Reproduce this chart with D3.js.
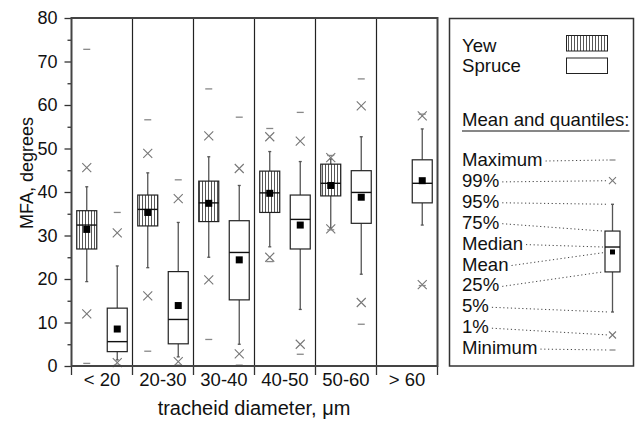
<!DOCTYPE html>
<html>
<head>
<meta charset="utf-8">
<script src="https://cdn.jsdelivr.net/npm/d3@7/dist/d3.min.js"></script>
<style>
  body { margin: 0; background: #fff; }
  svg { display: block; font-family: "Liberation Sans", Arial, sans-serif; }
  .axis text { font-size: 18px; fill: #111; }
  .axis path { display: none; }
  .axis line { stroke: #333; stroke-width: 1.3; }
  .title { font-size: 18px; fill: #111; }
  .legend text { font-size: 18.6px; fill: #111; }
  .leader { stroke: #444; stroke-width: 1; stroke-dasharray: 1.2 2.6; fill: none; }
  .whisker { stroke: #555; stroke-width: 1.3; }
  .box { stroke: #222; stroke-width: 1.2; }
  .median { stroke: #111; stroke-width: 1.4; }
  .mean { fill: #000; }
  .cross { stroke: #777; stroke-width: 1.1; }
  .dash { stroke: #888; stroke-width: 1.3; }
</style>
</head>
<body>
<div id="box-chart"></div>
<script>
// Data, one row per statistic in statKeys order
var statKeys = ["min", "p1", "p5", "q1", "median", "mean", "q3", "p95", "p99", "max"];
var categories = ["< 20", "20-30", "30-40", "40-50", "50-60", "> 60"];
var series = ["Yew", "Spruce"];

var yewStats = [
  [0.6, 12.0, 19.4, 26.9, 32.4, 31.4, 35.7, 41.2, 45.6, 72.8],
  [3.4, 16.1, 22.6, 32.2, 36.0, 35.3, 39.3, 44.4, 48.9, 56.6],
  [6.1, 19.8, 25.0, 33.2, 37.5, 37.4, 42.5, 48.1, 52.9, 63.7],
  [24.0, 25.0, 27.4, 35.3, 39.8, 39.7, 44.8, 49.3, 52.7, 54.6],
  [31.3, 31.5, 31.7, 39.1, 42.0, 41.5, 46.4, 47.6, 47.9, 48.4],
  null
];

var spruceStats = [
  [0.2, 0.8, 1.4, 3.3, 5.6, 8.5, 13.3, 23.0, 30.6, 35.3],
  [0.2, 1.0, 2.1, 5.1, 10.7, 13.9, 21.7, 33.0, 38.5, 42.8],
  [0.2, 2.8, 5.0, 15.2, 26.1, 24.4, 33.4, 41.5, 45.4, 57.2],
  [2.7, 5.0, 13.0, 26.9, 33.7, 32.4, 39.3, 47.0, 51.7, 58.3],
  [9.6, 14.6, 21.1, 32.8, 39.9, 38.8, 44.9, 52.7, 59.8, 66.0],
  [18.5, 18.7, 32.4, 37.5, 42.0, 42.6, 47.4, 54.5, 57.5, 57.9]
];

var yTicks = [0, 10, 20, 30, 40, 50, 60, 70, 80];
var yMinorTicks = [5, 15, 25, 35, 45, 55, 65, 75];

// Legend: labels top to bottom, the statistic each one points at,
// and a sample box on a 0-100 scale (statKeys order)
var legendLabels = ["Maximum", "99%", "95%", "75%", "Median", "Mean", "25%", "5%", "1%", "Minimum"];
var legendKeys = ["max", "p99", "p95", "q3", "median", "mean", "q1", "p5", "p1", "min"];
var legendSample = [0, 7.9, 20, 41.1, 54.2, 51.6, 62.6, 76.7, 89.1, 100];

var toStats = function(arr) {
  var o = {};
  statKeys.forEach(function(k, i) { o[k] = arr[i]; });
  return o;
};

// Flatten into one row per box
var rows = [];
categories.forEach(function(c, i) {
  [yewStats, spruceStats].forEach(function(s, j) {
    if (s[i]) {
      rows.push(Object.assign({ category: c, series: series[j] }, toStats(s[i])));
    }
  });
});

var drawBox = function(g, d, cx, y, opts) {
  var half = opts.boxWidth / 2;

  // whiskers with little caps
  g.append("line").attr("class", "whisker")
    .attr("x1", cx).attr("x2", cx).attr("y1", y(d.q3)).attr("y2", y(d.p95));
  g.append("line").attr("class", "whisker")
    .attr("x1", cx).attr("x2", cx).attr("y1", y(d.q1)).attr("y2", y(d.p5));
  [d.p95, d.p5].forEach(function(v) {
    g.append("line").attr("class", "whisker")
      .attr("x1", cx - opts.cap).attr("x2", cx + opts.cap)
      .attr("y1", y(v)).attr("y2", y(v));
  });

  g.append("rect").attr("class", "box")
    .attr("x", cx - half)
    .attr("y", y(d.q3))
    .attr("width", opts.boxWidth)
    .attr("height", y(d.q1) - y(d.q3))
    .attr("fill", opts.fill);

  g.append("line").attr("class", "median")
    .attr("x1", cx - half).attr("x2", cx + half)
    .attr("y1", y(d.median)).attr("y2", y(d.median));

  g.append("rect").attr("class", "mean")
    .attr("x", cx - opts.meanSize / 2)
    .attr("y", y(d.mean) - opts.meanSize / 2)
    .attr("width", opts.meanSize)
    .attr("height", opts.meanSize);

  // 1% and 99% crosses
  [d.p1, d.p99].forEach(function(v) {
    var s = opts.cross;
    g.append("path").attr("class", "cross")
      .attr("d", "M" + (cx - s) + "," + (y(v) - s) + "L" + (cx + s) + "," + (y(v) + s) +
        "M" + (cx - s) + "," + (y(v) + s) + "L" + (cx + s) + "," + (y(v) - s));
  });

  // min / max dashes
  [d.min, d.max].forEach(function(v) {
    g.append("line").attr("class", "dash")
      .attr("x1", cx - opts.dash).attr("x2", cx + opts.dash)
      .attr("y1", y(v)).attr("y2", y(v));
  });
};

var render = function() {
  var width = 636;
  var height = 421;
  var plot = { left: 71.5, right: 437.5, top: 18, bottom: 366 };

  var container = d3.select("#box-chart");
  container.html("");

  var svg = container.append("svg")
    .attr("width", width)
    .attr("height", height);

  svg.append("rect").attr("width", width).attr("height", height).attr("fill", "#fff");

  // vertical hatch for yew
  var pattern = svg.append("defs").append("pattern")
    .attr("id", "yew-hatch")
    .attr("patternUnits", "userSpaceOnUse")
    .attr("width", 3)
    .attr("height", 10);
  pattern.append("rect").attr("width", 3).attr("height", 10).attr("fill", "#fff");
  pattern.append("line")
    .attr("x1", 1.5).attr("x2", 1.5).attr("y1", 0).attr("y2", 10)
    .attr("stroke", "#444").attr("stroke-width", 0.9);

  var fills = { Yew: "url(#yew-hatch)", Spruce: "#fff" };

  // Scales
  var xScale = d3.scaleBand()
    .domain(categories)
    .range([plot.left, plot.right])
    .padding(0);

  var subScale = d3.scaleBand()
    .domain(series)
    .range([0, xScale.bandwidth()]);

  var yScale = d3.scaleLinear()
    .domain([0, 80])
    .range([plot.bottom, plot.top]);

  // Y axis, major and minor ticks
  svg.append("g")
    .attr("class", "y axis")
    .attr("transform", "translate(" + plot.left + ",0)")
    .call(d3.axisLeft(yScale).tickValues(yTicks).tickSize(7).tickPadding(7));

  svg.append("g")
    .attr("class", "y axis minor")
    .attr("transform", "translate(" + plot.left + ",0)")
    .call(d3.axisLeft(yScale).tickValues(yMinorTicks).tickSize(4).tickFormat(""));

  // X axis: ticks on the category boundaries, labels in the middle
  var bounds = categories.map(function(c) { return xScale(c); }).concat([plot.right]);
  var xAxis = svg.append("g").attr("class", "x axis");
  xAxis.selectAll("line")
    .data(bounds)
    .enter()
    .append("line")
    .attr("x1", function(d) { return d; })
    .attr("x2", function(d) { return d; })
    .attr("y1", plot.bottom)
    .attr("y2", plot.bottom + 9);
  xAxis.selectAll("text")
    .data(categories)
    .enter()
    .append("text")
    .attr("x", function(d) { return xScale(d) + xScale.bandwidth() / 2; })
    .attr("y", 386)
    .attr("text-anchor", "middle")
    .style("font-size", "18.5px")
    .text(function(d) { return d; });

  // Category separators
  svg.append("g")
    .selectAll("line")
    .data(bounds.slice(1, -1))
    .enter()
    .append("line")
    .attr("x1", function(d) { return d; })
    .attr("x2", function(d) { return d; })
    .attr("y1", plot.top)
    .attr("y2", plot.bottom)
    .attr("stroke", "#222")
    .attr("stroke-width", 1.2);

  // Boxes
  var boxes = svg.append("g").attr("class", "boxes");
  rows.forEach(function(d) {
    var cx = xScale(d.category) + subScale(d.series) + subScale.bandwidth() / 2;
    drawBox(boxes.append("g"), d, cx, yScale, {
      boxWidth: 20, cap: 1.5, meanSize: 7, cross: 4.5, dash: 3.5, fill: fills[d.series]
    });
  });

  // Plot frame
  svg.append("rect")
    .attr("x", plot.left)
    .attr("y", plot.top)
    .attr("width", plot.right - plot.left)
    .attr("height", plot.bottom - plot.top)
    .attr("fill", "none")
    .attr("stroke", "#444")
    .attr("stroke-width", 2);

  // Axis titles
  svg.append("text")
    .attr("class", "title")
    .attr("transform", "translate(33,173) rotate(-90)")
    .attr("text-anchor", "middle")
    .text("MFA, degrees");

  svg.append("text")
    .attr("class", "title")
    .attr("x", 254)
    .attr("y", 415)
    .attr("text-anchor", "middle")
    .style("font-size", "20px")
    .text("tracheid diameter, μm");

  // Legend
  var legend = svg.append("g").attr("class", "legend");
  legend.append("rect")
    .attr("x", 449.5)
    .attr("y", 18.5)
    .attr("width", 184)
    .attr("height", 347.5)
    .attr("fill", "none")
    .attr("stroke", "#333")
    .attr("stroke-width", 1.5);

  series.forEach(function(s, i) {
    legend.append("text").attr("x", 462).attr("y", 52 + i * 19.5).text(s);
    legend.append("rect")
      .attr("x", 566.5)
      .attr("y", 35.5 + i * 22.5)
      .attr("width", 41)
      .attr("height", 15.5)
      .attr("fill", fills[s])
      .attr("stroke", "#222")
      .attr("stroke-width", 1);
  });

  var heading = legend.append("text")
    .attr("x", 462)
    .attr("y", 126)
    .text("Mean and quantiles:");
  legend.append("line")
    .attr("x1", 462)
    .attr("x2", 462 + heading.node().getComputedTextLength())
    .attr("y1", 131)
    .attr("y2", 131)
    .attr("stroke", "#111")
    .attr("stroke-width", 1.2);

  // Sample box on its own little scale
  var legendY = d3.scaleLinear().domain([0, 100]).range([350, 160]);
  var sample = toStats(legendSample);
  var sampleX = 612.5;
  var sampleWidth = 15;

  // Dotted leaders from each label to its part of the sample box
  var boxParts = { q3: true, median: true, q1: true };
  legendLabels.forEach(function(label, i) {
    var base = 166 + i * 20.9;
    var t = legend.append("text").attr("x", 462).attr("y", base).text(label);
    var key = legendKeys[i];
    var endX = boxParts[key] ? sampleX - sampleWidth / 2 - 2 : sampleX - 4;
    legend.append("line")
      .attr("class", "leader")
      .attr("x1", 462 + t.node().getComputedTextLength() + 3)
      .attr("x2", endX)
      .attr("y1", base - 5)
      .attr("y2", legendY(sample[key]));
  });

  drawBox(legend.append("g"), sample, sampleX, legendY, {
    boxWidth: sampleWidth, cap: 1.5, meanSize: 5, cross: 3.5, dash: 3, fill: "#fff"
  });
};

window.onload = render;
</script>
</body>
</html>
